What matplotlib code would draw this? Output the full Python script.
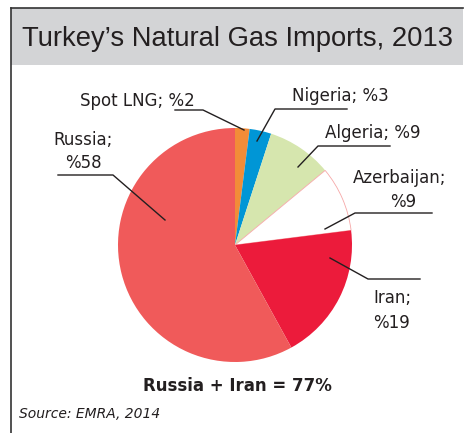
import matplotlib
matplotlib.use("Agg")
import matplotlib.pyplot as plt

W, H = 468, 433

countries = ["Spot LNG", "Nigeria", "Algeria", "Azerbaijan", "Iran", "Russia"]
shares = [2, 3, 9, 9, 19, 58]
colors = ["#F28C38", "#0096D6", "#D6E6AE", "#FFFFFF", "#EC1B3B", "#F05A5A"]
label_texts = ["Spot LNG; %2", "Nigeria; %3", "Algeria; %9",
               "Azerbaijan;\n%9", "Iran;\n%19", "Russia;\n%58"]


def Y(y):
    # pixel row (from top) -> data y
    return H - y


fig = plt.figure(figsize=(W / 100, H / 100), dpi=100)
ax = fig.add_axes([0, 0, 1, 1])

# header band and frame
ax.add_patch(plt.Rectangle((11, Y(65)), 452, 57, facecolor="#D3D4D6", edgecolor="none"))
ax.plot([11, 463], [Y(8), Y(8)], color="#333333", lw=1.2)
ax.plot([11, 11], [Y(8), Y(433)], color="#333333", lw=1.2)
ax.text(237, Y(46), "Turkey\u2019s Natural Gas Imports, 2013", fontsize=19.7,
        family="Liberation Sans",
        color="#231F20", ha="center", va="baseline")

wedges, _ = ax.pie(shares, colors=colors, startangle=90, counterclock=False,
                   center=(235, Y(245)), radius=117,
                   wedgeprops=dict(linewidth=0))
wedges[3].set_edgecolor("#F6A8A8")
wedges[3].set_linewidth(0.6)

# labels (left x, baseline y in pixels)
fs = 12
txt = dict(fontsize=fs, color="#231F20", va="baseline")
ax.text(80, Y(106), label_texts[0], ha="left", **txt)
ax.text(292, Y(101), label_texts[1], ha="left", **txt)
ax.text(325, Y(138), label_texts[2], ha="left", **txt)
ax.text(400, Y(183), "Azerbaijan;", ha="center", **txt)
ax.text(403, Y(207), "%9", ha="center", **txt)
ax.text(373, Y(303), "Iran;", ha="left", **txt)
ax.text(373, Y(328), "%19", ha="left", **txt)
ax.text(83, Y(145), "Russia;", ha="center", **txt)
ax.text(83, Y(168), "%58", ha="center", **txt)

# leader lines
leaders = [
    [(175, 110), (203, 110), (244, 130)],
    [(347, 109), (275, 109), (257, 141)],
    [(390, 146), (318, 146), (298, 167)],
    [(432, 213), (355, 213), (325, 229)],
    [(330, 258), (368, 279), (420, 279)],
    [(58, 175), (113, 175), (165, 220)],
]
for pts in leaders:
    ax.plot([p[0] for p in pts], [Y(p[1]) for p in pts], color="#231F20", lw=1.0)

ax.text(237, Y(391), "Russia + Iran = 77%", fontsize=12, fontweight="bold",
        color="#231F20", ha="center", va="baseline")
ax.text(19, Y(418), "Source: EMRA, 2014", fontsize=10, style="italic",
        color="#231F20", ha="left", va="baseline")

ax.set_xlim(0, W)
ax.set_ylim(0, H)
ax.set_aspect("equal")
ax.axis("off")

fig.savefig("out.png", dpi=100)
